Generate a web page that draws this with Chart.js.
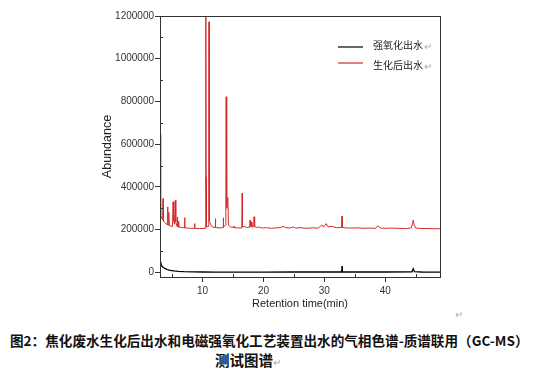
<!DOCTYPE html>
<html>
<head>
<meta charset="utf-8">
<script src="https://cdn.jsdelivr.net/npm/chart.js@4/dist/chart.umd.min.js"></script>
<style>
  body { margin: 0; background: #fff; }
  #wrap { position: relative; width: 534px; height: 372px; overflow: hidden; background: #fff; }
  #chart { position: absolute; left: 0; top: 0; }
  .cap { position: absolute; font-family: "Noto Sans CJK SC", sans-serif; font-weight: bold; color: #111; white-space: nowrap; font-size: 13.6px; line-height: 16px; }
  .mark { color: #aaa; font-weight: normal; font-size: 10px; }
</style>
</head>
<body>
<div id="wrap">
  <canvas id="chart" width="534" height="320"></canvas>
  <span class="cap mark" style="left:455px; top:306px;">↵</span>
  <div class="cap" id="cap1" style="left:10px; top:332px;">图2：焦化废水生化后出水和电磁强氧化工艺装置出水的气相色谱-质谱联用（GC-MS）</div>
  <div class="cap" style="left:215px; top:352px; font-size:14.5px;">测试图谱<span class="mark">↵</span></div>
</div>
<script>
// series labels
var seriesNames = ["强氧化出水", "生化后出水"]

// 生化后出水 (red)
var redTime = [3.0, 3.08, 3.15, 3.3, 3.45, 3.5, 3.56, 3.8, 4.0, 4.2, 4.25, 4.3, 4.42, 4.45, 4.5, 4.8, 5.05, 5.15, 5.25, 5.4, 5.5, 5.6, 5.8, 5.85, 5.9, 6.0, 6.05, 6.1, 6.5, 7.0, 7.05, 7.1, 7.5, 8.0, 8.65, 8.7, 8.75, 9.5,
    10.4, 10.5, 10.53, 10.55, 10.57, 10.62, 10.75, 10.95, 11.02, 11.05, 11.08, 11.15, 11.3, 11.6, 12.05, 12.1, 12.15, 13.0, 13.35, 13.4, 13.45, 13.75, 13.82, 13.87, 13.92, 14.0, 14.15, 14.25, 14.6,
    15.15, 15.2, 15.25, 16.0, 16.45, 16.5, 16.55, 16.8, 17.2, 17.75, 17.8, 17.85, 18.0, 18.1, 18.4, 18.45, 18.55, 18.8, 19.3, 19.8, 20.5, 21.3, 22.0, 22.8, 23.2, 23.6, 24.2, 24.9, 25.3, 26.0, 27.0, 28.0, 29.0,
    29.6, 29.9, 30.3, 30.6, 31.2, 32.0, 32.85, 32.9, 32.95, 33.5, 34.5, 35.5, 36.5, 37.5, 38.4, 38.85, 39.2, 40.0, 41.0, 42.0, 43.5, 44.3, 44.5, 44.6, 44.75, 45.0, 46.0, 47.0, 48.0, 49.0]
var redAbund = [645000, 300000, 268000, 252000, 245000, 345000, 240000, 232000, 226000, 225000, 306000, 222000, 221000, 281000, 220000, 216000, 215000, 330000, 240000, 225000, 337000, 235000, 215000, 259000, 214000, 213000, 239000, 212000, 210000, 208000, 256000, 208000, 207000, 206000, 206000, 228000, 206000, 205000,
    206000, 210000, 447000, 1250000, 447000, 212000, 215000, 215000, 506000, 1173000, 506000, 240000, 225000, 212000, 210000, 251000, 209000, 208000, 210000, 255000, 212000, 220000, 392000, 822000, 392000, 300000, 350000, 220000, 212000,
    210000, 216000, 209000, 207000, 208000, 370000, 212000, 215000, 210000, 211000, 244000, 215000, 236000, 212000, 213000, 260000, 215000, 210000, 212000, 207000, 209000, 206000, 208000, 209000, 215000, 210000, 207000, 212000, 207000, 209000, 206000, 208000, 207000,
    222000, 212000, 228000, 213000, 215000, 209000, 210000, 262000, 210000, 208000, 207000, 208000, 206000, 207000, 206000, 218000, 207000, 206000, 207000, 206000, 205000, 208000, 230000, 244000, 222000, 207000, 205000, 205000, 204000, 204000]

// 强氧化出水 (black)
var blackTime = [3.0, 3.15, 3.3, 3.5, 3.8, 4.2, 4.7, 5.3, 6.0, 7.0, 8.5, 10.0, 12.0, 15.0, 20.0, 25.0, 30.0, 32.85, 32.9, 32.95, 35.0, 40.0, 44.4, 44.6, 44.8, 46.0, 49.0]
var blackAbund = [48000, 38000, 30000, 24000, 18000, 13000, 9000, 6500, 4500, 3000, 2200, 1500, 1200, 1000, 1000, 1500, 1500, 2000, 29000, 2500, 1500, 1500, 2500, 17000, 3000, 1500, 1200]

// axis ticks
var xTicks = [10, 20, 30, 40]
var xMinorTicks = [5, 15, 25, 35, 45]
var yTicks = [0, 200000, 400000, 600000, 800000, 1000000, 1200000]
var yMinorTicks = [100000, 300000, 500000, 700000, 900000, 1100000]

var axisColor = '#333'
var fontFamily = "'Liberation Sans', Arial, sans-serif"

function toPoints(xs, ys) {
    return xs.map(function (x, i) { return {x: x, y: ys[i]} })
}

// frame + inside minor ticks + legend
var framePlugin = {
    id: 'frame',
    afterDraw: function (chart) {
        var ctx = chart.ctx
        var a = chart.chartArea
        var xs = chart.scales.x, ys = chart.scales.y
        ctx.save()
        ctx.strokeStyle = axisColor
        ctx.lineWidth = 1
        ctx.strokeRect(a.left + 0.5, a.top + 0.5, a.right - a.left, a.bottom - a.top)
        ctx.beginPath()
        xMinorTicks.forEach(function (v) {
            var px = Math.round(xs.getPixelForValue(v)) + 0.5
            ctx.moveTo(px, a.bottom)
            ctx.lineTo(px, a.bottom - 3)
        })
        yMinorTicks.forEach(function (v) {
            var py = Math.round(ys.getPixelForValue(v)) + 0.5
            ctx.moveTo(a.left, py)
            ctx.lineTo(a.left + 3, py)
        })
        ctx.stroke()

        // legend
        var lx = 338, ly = [47, 63]
        ctx.font = "10px 'Noto Sans CJK SC', sans-serif"
        ctx.textBaseline = 'middle'
        chart.data.datasets.forEach(function (ds, i) {
            ctx.strokeStyle = ds.borderColor
            ctx.lineWidth = 1.2
            ctx.beginPath()
            ctx.moveTo(lx, ly[i])
            ctx.lineTo(lx + 25, ly[i])
            ctx.stroke()
            var ty = ly[i] - 2 + i * 4
            ctx.fillStyle = '#222'
            ctx.fillText(ds.label, lx + 35, ty)
            var w = ctx.measureText(ds.label).width
            ctx.fillStyle = '#aaa'
            ctx.fillText('↵', lx + 36 + w, ty + 1)
        })
        ctx.restore()
    }
}

new Chart(document.getElementById('chart'), {
    type: 'line',
    data: {
        datasets: [
            {
                label: seriesNames[0],
                data: toPoints(blackTime, blackAbund),
                borderColor: '#000',
                borderWidth: 1.3,
                pointRadius: 0,
                tension: 0
            },
            {
                label: seriesNames[1],
                data: toPoints(redTime, redAbund),
                borderColor: '#d42a2a',
                borderWidth: 1,
                pointRadius: 0,
                tension: 0
            }
        ]
    },
    options: {
        responsive: false,
        animation: false,
        devicePixelRatio: 1,
        layout: {padding: {left: 95, right: 94, top: 16, bottom: 9}},
        plugins: {
            legend: {display: false},
            tooltip: {enabled: false}
        },
        scales: {
            x: {
                type: 'linear',
                min: 3,
                max: 49,
                afterBuildTicks: function (s) { s.ticks = xTicks.map(function (v) { return {value: v} }) },
                afterFit: function (s) { s.height = 34 },
                grid: {drawOnChartArea: false, color: axisColor, tickLength: 5},
                border: {color: axisColor},
                ticks: {color: '#333', padding: 3, maxRotation: 0, font: {size: 10, family: fontFamily}},
                title: {display: true, text: 'Retention time(min)', color: '#222', padding: 0, font: {size: 11, family: fontFamily}}
            },
            y: {
                min: -22000,
                max: 1200000,
                afterBuildTicks: function (s) { s.ticks = yTicks.map(function (v) { return {value: v} }) },
                afterFit: function (s) { s.width = 65 },
                grid: {drawOnChartArea: false, color: axisColor, tickLength: 5},
                border: {color: axisColor},
                ticks: {color: '#333', padding: 1, font: {size: 10, family: fontFamily}, callback: function (v) { return String(v) }},
                title: {display: true, text: 'Abundance', color: '#222', padding: {top: 5, bottom: 0}, font: {size: 12.5, family: fontFamily}}
            }
        }
    },
    plugins: [framePlugin]
});
</script>
</body>
</html>
